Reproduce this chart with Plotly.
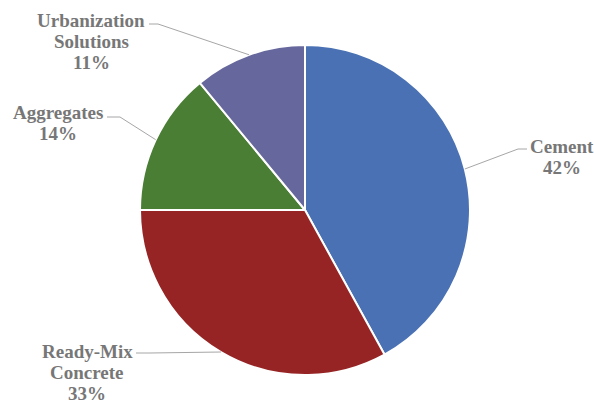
import math
import plotly.graph_objects as go

categories = ["Cement", "Ready-Mix Concrete", "Aggregates", "Urbanization Solutions"]
shares = [42, 33, 14, 11]
label_lines = [["Cement", "42%"], ["Ready-Mix", "Concrete", "33%"], ["Aggregates", "14%"],
               ["Urbanization", "Solutions", "11%"]]
colors = ["#4a71b3", "#972424", "#4a7e35", "#66679c"]

W, H = 594, 405
cx, cy, r = 305, 210, 165

# label centre x and first-line y (layout), leader start and knee points (layout)
label_pos = [(562, 146), (87, 351), (58, 112), (91, 20)]
line_gap = 21
leader_start = [(527, 149), (136, 353), (107, 117), (149, 24)]
leader_knee = [(518, 149), (150, 353), (120, 117), (158, 24)]

fig = go.Figure()
fig.add_trace(go.Pie(
    labels=categories, values=shares, sort=False, direction="clockwise", rotation=0,
    marker=dict(colors=colors, line=dict(color="white", width=2)),
    textinfo="none", hoverinfo="label+percent", showlegend=False,
    domain=dict(x=[(cx - r) / W, (cx + r) / W], y=[1 - (cy + r) / H, 1 - (cy - r) / H]),
))

total = sum(shares)
cum = 0
for i, v in enumerate(shares):
    mid = (cum + v / 2) / total * 2 * math.pi
    cum += v
    ax = cx + r * math.sin(mid)
    ay = cy - r * math.cos(mid)
    sx, sy = leader_start[i]
    kx, ky = leader_knee[i]
    fig.add_shape(type="path", xref="x", yref="y",
                  path=f"M {sx},{sy} L {kx},{ky} L {ax:.1f},{ay:.1f}",
                  line=dict(color="#a6a6a6", width=1))
    lx, ly = label_pos[i]
    for j, t in enumerate(label_lines[i]):
        fig.add_annotation(x=lx, y=ly + j * line_gap, xref="x", yref="y", text=f"<b>{t}</b>",
                           showarrow=False,
                           font=dict(family="Liberation Serif", size=19, color="#777777"),
                           align="center", xanchor="center", yanchor="middle")

fig.update_layout(
    width=W, height=H, margin=dict(l=0, r=0, t=0, b=0),
    paper_bgcolor="white", plot_bgcolor="rgba(0,0,0,0)",
    xaxis=dict(range=[0, W], visible=False, domain=[0, 1], fixedrange=True),
    yaxis=dict(range=[H, 0], visible=False, domain=[0, 1], fixedrange=True),
)
fig.write_html("out.html")
